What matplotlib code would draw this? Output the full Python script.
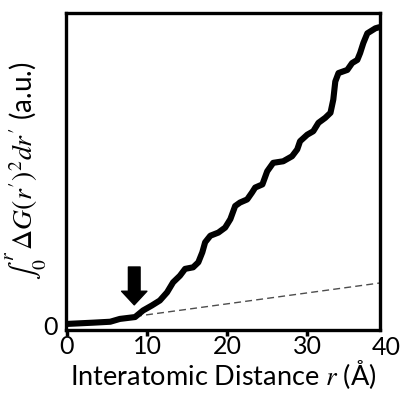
import matplotlib
matplotlib.use("Agg")
import matplotlib.pyplot as plt

plt.rcParams["font.family"] = ["Lato", "DejaVu Sans"]
plt.rcParams["mathtext.fontset"] = "stix"

# cumulative integral of ΔG(r)^2 (arbitrary units)
r = [0.0, 3.25, 5.4, 6.6, 8.5, 9.5, 10.6, 11.6, 12.5, 13.25, 14.1, 14.75,
     15.75, 16.4, 16.9, 17.25, 17.9, 18.9, 19.75, 20.4, 21.0, 21.6, 22.5,
     23.1, 23.5, 24.4, 25.0, 25.75, 27.0, 28.1, 28.75, 29.1, 30.0, 30.75,
     31.4, 32.25, 32.9, 33.25, 33.5, 33.9, 35.0, 35.6, 36.25, 36.6, 37.0,
     37.5, 38.5, 38.9, 39.1]
integral = [0.006, 0.010, 0.013, 0.022, 0.028, 0.049, 0.065, 0.081, 0.107,
            0.139, 0.160, 0.182, 0.187, 0.203, 0.235, 0.267, 0.288, 0.298,
            0.314, 0.341, 0.383, 0.394, 0.404, 0.426, 0.442, 0.452, 0.494,
            0.521, 0.526, 0.542, 0.564, 0.590, 0.611, 0.622, 0.649, 0.665,
            0.681, 0.723, 0.781, 0.808, 0.818, 0.840, 0.850, 0.872, 0.904,
            0.935, 0.951, 0.954, 0.955]

# linear baseline extrapolated from the onset
base_r = [8.5, 39.1]
base_y = [0.030, 0.137]

onset_r = 8.4
arrow_top, arrow_tip = 0.188, 0.067

fig = plt.figure(figsize=(4.01, 3.94), dpi=100)
ax = fig.add_axes([0.165, 0.163, 0.783, 0.804])

ax.plot(r, integral, color="black", lw=4.4, solid_joinstyle="round",
        solid_capstyle="round", zorder=3)
ax.plot(base_r, base_y, color="0.3", lw=1.0, ls=(0, (5, 3)), zorder=2)

ax.annotate("", xy=(onset_r, arrow_tip), xytext=(onset_r, arrow_top),
            arrowprops=dict(arrowstyle="simple,head_length=0.7,head_width=1.3,tail_width=0.6",
                            color="black", mutation_scale=14, shrinkA=0, shrinkB=0))

ax.set_xlim(-0.1, 39.1)
ax.set_ylim(-0.0127, 1.0)
ax.set_xticks([0, 10, 20, 30])
ax.set_yticks([0])
ax.tick_params(axis="x", direction="out", length=4, width=2.5, labelsize=18, pad=0)
ax.tick_params(axis="y", length=0, labelsize=18, pad=6)
ax.text(39.8, -0.019, "40", transform=ax.get_xaxis_transform(), ha="center",
        va="top", fontsize=18, clip_on=False)

for s in ax.spines.values():
    s.set_linewidth(2.4)

ax.set_xlabel(r"Interatomic Distance $r$ (Å)", fontsize=19.5, labelpad=0)
ax.set_ylabel(r"$\int_0^r\, \Delta G(r')^2dr'$ (a.u.)", fontsize=20, labelpad=-4)

fig.savefig("out.png", dpi=100)
